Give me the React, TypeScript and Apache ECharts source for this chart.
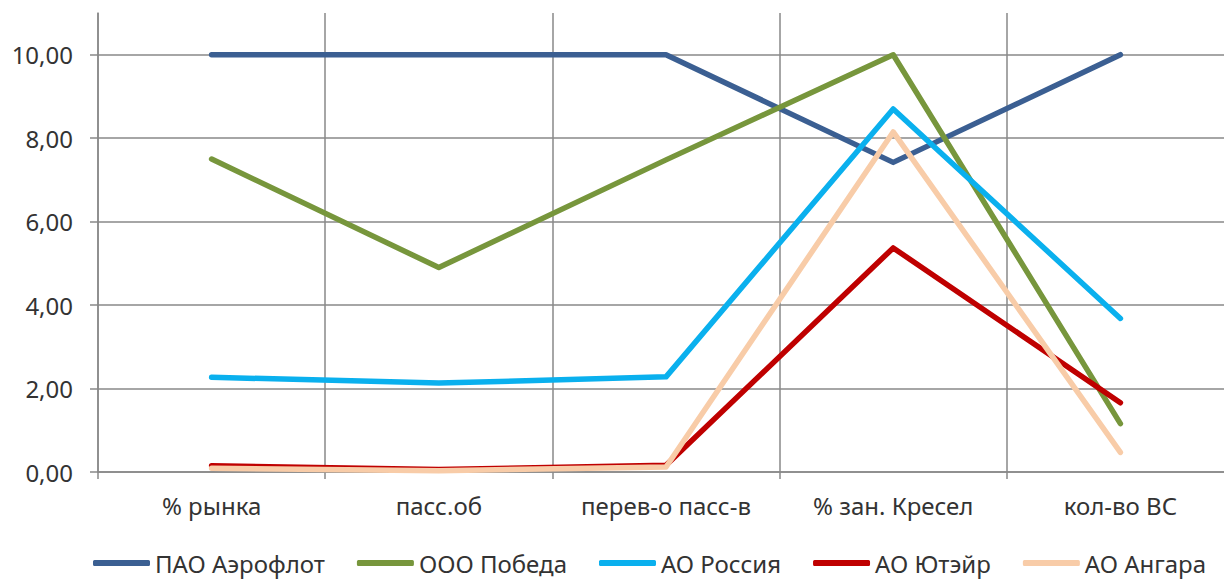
import React, { useEffect, useRef } from "react";
import * as echarts from "echarts";

const categories = ["% рынка", "пасс.об", "перев-о пасс-в", "% зан. Кресел", "кол-во ВС"];
const seriesNames = ["ПАО Аэрофлот", "ООО Победа", "АО Россия", "АО Ютэйр", "АО Ангара"];
const aeroflot = [10, 10, 10, 7.42, 10];
const pobeda = [7.5, 4.9, 7.48, 10, 1.16];
const rossiya = [2.27, 2.13, 2.28, 8.7, 3.68];
const utair = [0.15, 0.06, 0.16, 5.37, 1.66];
const angara = [0.09, 0.03, 0.12, 8.15, 0.47];
const yTicks = [0, 2, 4, 6, 8, 10];
const colors = ["#3B5F92", "#77963C", "#0AB0EE", "#BF0000", "#F8CCA8"];

export default function App() {
  const ref = useRef<HTMLDivElement>(null);
  useEffect(() => {
    if (!ref.current) return;
    const chart = echarts.init(ref.current, null, { renderer: "svg" });
    const values = [aeroflot, pobeda, rossiya, utair, angara];
    const font = "'Noto Sans', sans-serif";
    chart.setOption({
      animation: false,
      backgroundColor: "#ffffff",
      color: colors,
      grid: {
        left: 98,
        top: 13,
        right: -10,
        bottom: 108,
        containLabel: false,
        outerBoundsMode: "none",
      },
      legend: {
        bottom: 0,
        left: 88,
        icon: "roundRect",
        itemWidth: 57,
        itemHeight: 6,
        itemGap: 32,
        textStyle: { fontFamily: font, fontSize: 24, color: "#333" },
        data: seriesNames,
      },
      xAxis: {
        type: "category",
        data: categories,
        boundaryGap: true,
        axisLine: { show: true, lineStyle: { color: "#888", width: 1.5 } },
        axisTick: { show: true, length: 7, lineStyle: { color: "#888", width: 1.5 } },
        splitLine: { show: true, lineStyle: { color: "#888", width: 1.5 } },
        axisLabel: { fontFamily: font, fontSize: 24, color: "#333", margin: 21 },
      },
      yAxis: {
        type: "value",
        min: 0,
        max: 11,
        interval: 2,
        axisLine: { show: true, lineStyle: { color: "#888", width: 1.5 } },
        axisTick: { show: true, length: 8, customValues: yTicks, lineStyle: { color: "#888", width: 1.5 } },
        splitLine: { show: true, lineStyle: { color: "#888", width: 1.5 } },
        axisLabel: {
          customValues: yTicks,
          fontFamily: font,
          fontSize: 24,
          color: "#333",
          margin: 25,
          formatter: (v: number) => v.toFixed(2).replace(".", ","),
        },
      },
      series: seriesNames.map((name, i) => ({
        name,
        type: "line",
        data: values[i],
        symbol: "none",
        lineStyle: { width: 5.5, color: colors[i], cap: "round", join: "round" },
        itemStyle: { color: colors[i] },
      })),
    });
    return () => chart.dispose();
  }, []);
  return (
    <div
      ref={ref}
      style={{ position: "fixed", left: 0, top: 0, width: 1224, height: 580, background: "#fff" }}
    />
  );
}
